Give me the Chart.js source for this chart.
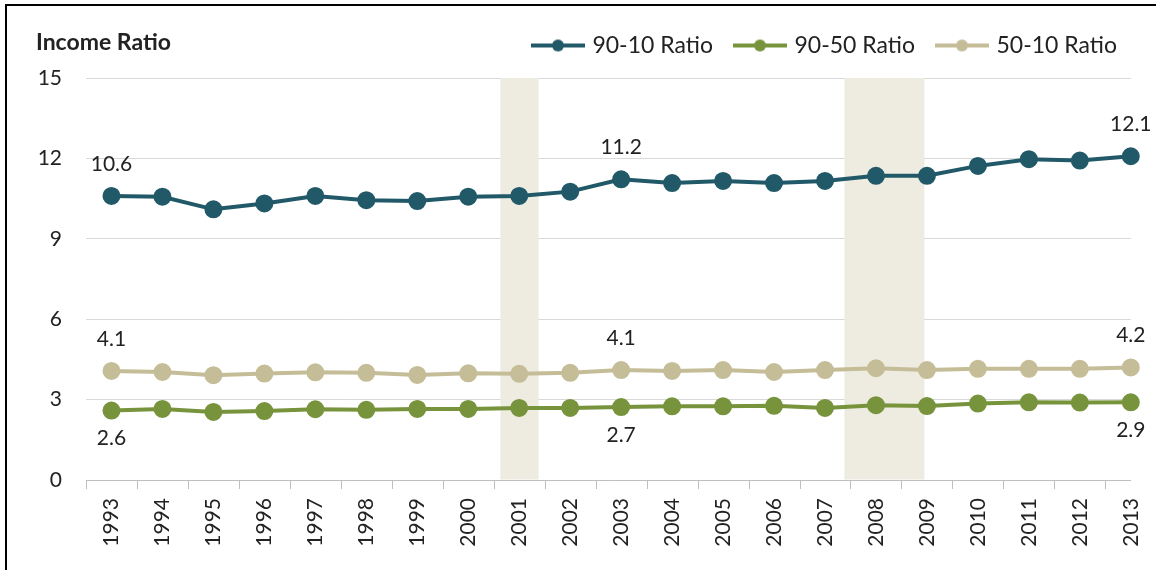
<!DOCTYPE html>
<html>
<head>
<meta charset="utf-8">
<script src="https://cdn.jsdelivr.net/npm/chart.js@4/dist/chart.umd.min.js"></script>
<style>
  body { margin: 0; background: #fff; }
  #wrap { position: relative; width: 1156px; height: 571px; }
  #frame { position: absolute; left: 5px; top: 4px; right: 0; bottom: 1px;
           border-top: 2px solid #000; border-left: 2px solid #000; pointer-events: none; }
</style>
</head>
<body>
<div id="wrap">
  <canvas id="myChart" width="1156" height="571"></canvas>
  <div id="frame"></div>
</div>
<script>
var years = [1993, 1994, 1995, 1996, 1997, 1998, 1999, 2000, 2001, 2002, 2003,
             2004, 2005, 2006, 2007, 2008, 2009, 2010, 2011, 2012, 2013];
var ratio9010 = [10.60, 10.57, 10.10, 10.32, 10.60, 10.44, 10.41, 10.57, 10.60, 10.76, 11.22,
                 11.08, 11.16, 11.08, 11.16, 11.35, 11.35, 11.72, 11.97, 11.92, 12.08];
var ratio9050 = [2.59, 2.65, 2.54, 2.57, 2.64, 2.62, 2.65, 2.65, 2.69, 2.69, 2.72,
                 2.75, 2.75, 2.77, 2.69, 2.79, 2.76, 2.85, 2.90, 2.89, 2.90];
var ratio5010 = [4.07, 4.03, 3.91, 3.97, 4.02, 4.00, 3.92, 3.98, 3.96, 4.00, 4.10,
                 4.07, 4.10, 4.03, 4.10, 4.17, 4.10, 4.15, 4.15, 4.15, 4.20];
var recessions = [[2000.63, 2001.38], [2007.38, 2008.95]];
var labelledPoints = [0, 10, 20];
var yTicks = [0, 3, 6, 9, 12, 15];

var FONT = 'Lato, "Open Sans", sans-serif';
var TEXT = '#222';

// little line + dot picture for the legend
function legendIcon(color) {
    var c = document.createElement('canvas');
    c.width = 54; c.height = 14;
    var g = c.getContext('2d');
    g.strokeStyle = color; g.lineWidth = 4;
    g.beginPath(); g.moveTo(0, 7); g.lineTo(54, 7); g.stroke();
    g.fillStyle = color;
    g.beginPath(); g.arc(27, 7, 6, 0, Math.PI * 2); g.fill();
    return c;
}

var shading = {
    id: 'shading',
    beforeDatasetsDraw: function(chart) {
        var ctx = chart.ctx, x = chart.scales.x, a = chart.chartArea;
        ctx.save();
        ctx.fillStyle = '#EEECE1';
        recessions.forEach(function(r) {
            var x0 = x.getPixelForValue(r[0]), x1 = x.getPixelForValue(r[1]);
            ctx.fillRect(x0, a.top, x1 - x0, a.bottom - a.top - 0.5);
        });
        // tick marks between the years
        ctx.strokeStyle = '#BFBFBF';
        ctx.lineWidth = 1;
        years.forEach(function(yr) {
            var px = Math.round(x.getPixelForValue(yr - 0.5)) + 0.5;
            ctx.beginPath(); ctx.moveTo(px, a.bottom); ctx.lineTo(px, a.bottom + 9); ctx.stroke();
        });
        ctx.restore();
    }
};

var extras = {
    id: 'extras',
    afterDatasetsDraw: function(chart) {
        var ctx = chart.ctx;
        ctx.save();
        ctx.font = '21px ' + FONT;
        ctx.fillStyle = TEXT;
        ctx.textAlign = 'center';
        ctx.textBaseline = 'middle';
        chart.data.datasets.forEach(function(ds, i) {
            var meta = chart.getDatasetMeta(i);
            labelledPoints.forEach(function(idx) {
                var p = meta.data[idx];
                var dy = ds.labelSide === 'below' ? 28 : -32;
                ctx.fillText(ds.data[idx].toFixed(1), p.x, p.y + dy);
            });
        });
        ctx.font = 'bold 23px ' + FONT;
        ctx.textAlign = 'left';
        ctx.fillText('Income Ratio', 36, 43);
        ctx.restore();
    }
};

new Chart('myChart', {
    type: 'line',
    data: {
        labels: years,
        datasets: [
            { label: '90-10 Ratio', data: ratio9010, borderColor: '#215968', backgroundColor: '#215968',
              icon: legendIcon('#215968'), labelSide: 'above' },
            { label: '90-50 Ratio', data: ratio9050, borderColor: '#77933C', backgroundColor: '#77933C',
              icon: legendIcon('#77933C'), labelSide: 'below' },
            { label: '50-10 Ratio', data: ratio5010, borderColor: '#C4BD97', backgroundColor: '#C4BD97',
              icon: legendIcon('#C4BD97'), labelSide: 'above' }
        ].map(function(d) {
            d.borderWidth = 4;
            d.pointStyle = 'circle';
            d.pointRadius = 7;
            d.pointHoverRadius = 7;
            d.tension = 0;
            d.clip = false;
            d.fill = false;
            return d;
        })
    },
    options: {
        responsive: false,
        animation: false,
        layout: { padding: { top: 10, right: 15, left: 0, bottom: 0 } },
        plugins: {
            tooltip: { enabled: false },
            legend: {
                position: 'top',
                align: 'end',
                labels: {
                    usePointStyle: true,
                    pointStyleWidth: 46,
                    boxHeight: 14,
                    padding: 24,
                    color: TEXT,
                    font: { family: FONT, size: 23 },
                    generateLabels: function(chart) {
                        return chart.data.datasets.map(function(ds, i) {
                            return { text: ds.label, pointStyle: ds.icon, fillStyle: ds.borderColor,
                                     strokeStyle: ds.borderColor, lineWidth: 0, datasetIndex: i, fontColor: TEXT };
                        });
                    }
                }
            }
        },
        scales: {
            x: {
                type: 'linear',
                min: 1992.5,
                max: 2013,
                afterBuildTicks: function(s) { s.ticks = years.map(function(v) { return { value: v }; }); },
                afterFit: function(s) { s.height = 91; },
                grid: { display: false, drawTicks: true, tickLength: 18 },
                border: { display: true, color: '#BFBFBF', width: 1 },
                ticks: {
                    minRotation: 90, maxRotation: 90, padding: 0, autoSkip: false,
                    color: TEXT, font: { family: FONT, size: 21 },
                    callback: function(v) { return String(v); }
                }
            },
            // empty top axis, only used as a spacer under the legend
            spacer: {
                type: 'linear',
                position: 'top',
                display: true,
                afterFit: function(s) { s.height = 11; },
                grid: { display: false },
                border: { display: false },
                ticks: { display: false }
            },
            y: {
                min: 0,
                max: 15,
                afterBuildTicks: function(s) { s.ticks = yTicks.map(function(v) { return { value: v }; }); },
                afterFit: function(s) { s.width = 86; },
                grid: { color: '#D9D9D9', drawTicks: false },
                border: { display: false },
                ticks: { padding: 24, color: TEXT, font: { family: FONT, size: 21 } }
            }
        }
    },
    plugins: [shading, extras]
});
</script>
</body>
</html>
